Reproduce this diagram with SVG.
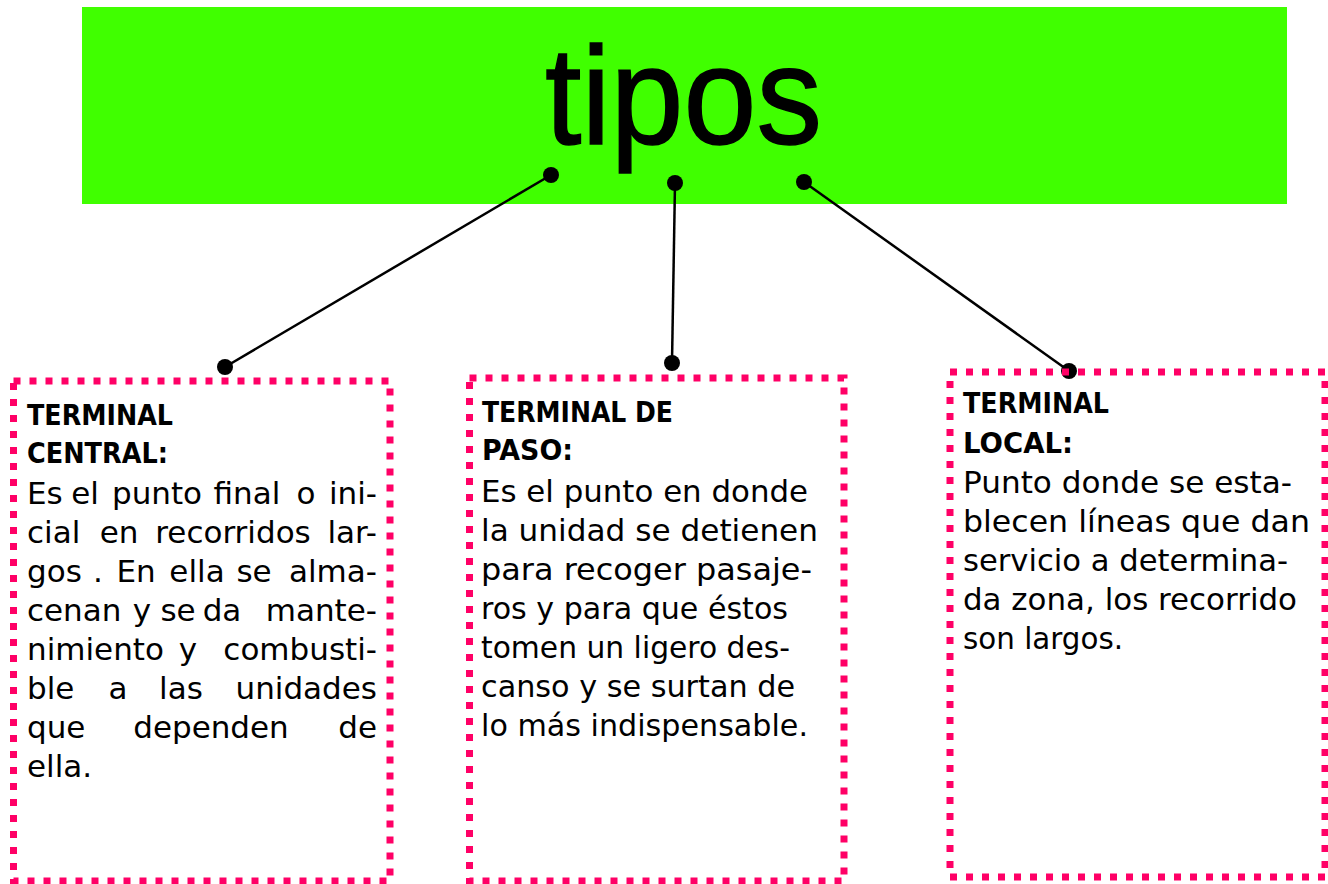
<svg xmlns="http://www.w3.org/2000/svg" width="1328" height="884" viewBox="0 0 1328 884">
<style>
.box{fill:none;stroke:#ff0066;stroke-width:7;stroke-dasharray:7 9}
.h{font-family:"DejaVu Sans",sans-serif;font-weight:bold;font-size:29px;fill:#000}
.b{font-family:"DejaVu Sans",sans-serif;font-size:31px;fill:#000}
.m{text-anchor:middle}
.e{text-anchor:end}
.ln{stroke:#000;stroke-width:2.5}
.dot{fill:#000}
</style>
<rect width="1328" height="884" fill="#fff"/>
<g id="title">
<rect x="82" y="7" width="1205" height="197" fill="#40ff00"/>
<text x="545" y="144" font-family="Liberation Sans, sans-serif" font-size="140" stroke="#000" stroke-width="1.5" textLength="277" lengthAdjust="spacingAndGlyphs" fill="#000">tipos</text>
</g>
<g id="connectors">
<line class="ln" x1="551" y1="175" x2="225" y2="367"/>
<line class="ln" x1="675" y1="183" x2="672" y2="363"/>
<line class="ln" x1="804" y1="182" x2="1069" y2="371"/>
<circle class="dot" cx="551" cy="175" r="8"/>
<circle class="dot" cx="675" cy="183" r="8"/>
<circle class="dot" cx="804" cy="182" r="8"/>
<circle class="dot" cx="225" cy="367" r="8"/>
<circle class="dot" cx="672" cy="363" r="8"/>
<circle class="dot" cx="1069" cy="371" r="8"/>
</g>
<g id="central">
<rect class="box" x="13.5" y="381" width="376.5" height="500"/>
<text class="h" x="27" y="425" textLength="146" lengthAdjust="spacingAndGlyphs">TERMINAL</text>
<text class="h" x="27" y="463" textLength="141" lengthAdjust="spacingAndGlyphs">CENTRAL:</text>
<g class="b">
<text x="27" y="504">Es</text><text class="m" x="85" y="504">el</text><text class="m" x="157" y="504">punto</text><text class="m" x="247" y="504">final</text><text class="m" x="306" y="504">o</text><text class="e" x="377" y="504">ini-</text>
<text x="27" y="543">cial</text><text class="m" x="119" y="543">en</text><text class="m" x="233" y="543">recorridos</text><text class="e" x="377" y="543">lar-</text>
<text x="27" y="582">gos</text><text class="m" x="98" y="582">.</text><text class="m" x="136" y="582">En</text><text class="m" x="197" y="582">ella</text><text class="m" x="254" y="582">se</text><text class="e" x="377" y="582">alma-</text>
<text x="27" y="621">cenan</text><text class="m" x="142" y="621">y</text><text class="m" x="178" y="621">se</text><text class="m" x="222" y="621">da</text><text class="e" x="377" y="621">mante-</text>
<text x="27" y="660">nimiento</text><text class="m" x="188" y="660">y</text><text class="e" x="377" y="660">combusti-</text>
<text x="27" y="699">ble</text><text class="m" x="118" y="699">a</text><text class="m" x="181" y="699">las</text><text class="e" x="377" y="699">unidades</text>
<text x="27" y="738">que</text><text class="m" x="211" y="738">dependen</text><text class="e" x="377" y="738">de</text>
<text x="27" y="777">ella.</text>
</g>
</g>
<g id="paso">
<rect class="box" x="469.5" y="378" width="374.5" height="503"/>
<text class="h" x="482" y="422" textLength="191" lengthAdjust="spacingAndGlyphs">TERMINAL DE</text>
<text class="h" x="482" y="460" textLength="91" lengthAdjust="spacingAndGlyphs">PASO:</text>
<g class="b">
<text x="481" y="502" textLength="327" lengthAdjust="spacingAndGlyphs">Es el punto en donde</text>
<text x="481" y="541" textLength="337" lengthAdjust="spacingAndGlyphs">la unidad se detienen</text>
<text x="481" y="580" textLength="331" lengthAdjust="spacingAndGlyphs">para recoger pasaje-</text>
<text x="481" y="619" textLength="307" lengthAdjust="spacingAndGlyphs">ros y para que éstos</text>
<text x="481" y="658" textLength="309" lengthAdjust="spacingAndGlyphs">tomen un ligero des-</text>
<text x="481" y="697" textLength="314" lengthAdjust="spacingAndGlyphs">canso y se surtan de</text>
<text x="481" y="736" textLength="327" lengthAdjust="spacingAndGlyphs">lo más indispensable.</text>
</g>
</g>
<g id="local">
<rect class="box" x="950" y="372" width="375" height="505"/>
<text class="h" x="963" y="413" textLength="146" lengthAdjust="spacingAndGlyphs">TERMINAL</text>
<text class="h" x="963" y="453" textLength="110" lengthAdjust="spacingAndGlyphs">LOCAL:</text>
<g class="b">
<text x="963" y="493" textLength="329" lengthAdjust="spacingAndGlyphs">Punto donde se esta-</text>
<text x="963" y="532" textLength="347" lengthAdjust="spacingAndGlyphs">blecen líneas que dan</text>
<text x="963" y="571" textLength="325" lengthAdjust="spacingAndGlyphs">servicio a determina-</text>
<text x="963" y="610" textLength="334" lengthAdjust="spacingAndGlyphs">da zona, los recorrido</text>
<text x="963" y="649" textLength="160" lengthAdjust="spacingAndGlyphs">son largos.</text>
</g>
</g>
</svg>
